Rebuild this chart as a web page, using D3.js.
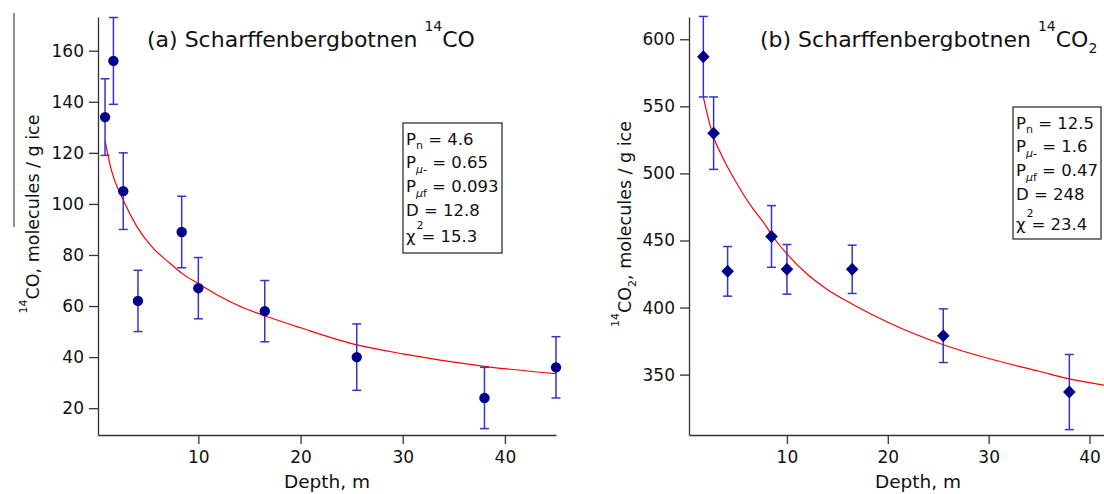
<!DOCTYPE html>
<html lang="en">
<head>
  <meta charset="UTF-8">
  <title>Scharffenbergbotnen</title>
  <script src="https://d3js.org/d3.v7.min.js"></script>
  <style>
    body { margin: 0; background: #fff; }
    svg text { font-family: "DejaVu Sans", sans-serif; fill: #111; }
  </style>
</head>
<body>
  <div id="my_dataviz"></div>
  <script>

    // ---- data ----
    // (a) 14CO
    var depthA = [0.87, 1.69, 2.65, 4.09, 8.37, 10.0, 16.5, 25.5, 38.0, 45.0];
    var coA    = [134, 156, 105, 62, 89, 67, 58, 40, 24, 36];
    var coErr  = [15, 17, 15, 12, 14, 12, 12, 13, 12, 12];
    // fitted curve (a)
    var fitDepthA = [0.87, 1.5, 2.65, 4, 5.5, 7, 8.5, 10, 12, 14, 16.5, 20, 25.5, 30, 38, 45];
    var fitCoA    = [124.8, 113, 101.5, 91, 83, 77.5, 72.5, 68.8, 64, 60, 56.2, 51.5, 44.8, 41.3, 36.4, 33.5];

    // (b) 14CO2
    var depthB = [1.71, 2.73, 4.12, 8.47, 10.0, 16.47, 25.5, 38.0];
    var co2B   = [587, 530, 427, 453, 428.5, 428.5, 379, 337];
    var co2Err = [30, 27, 18.5, 23, 18.5, 18, 20, 28];
    var fitDepthB = [1.71, 2.2, 2.73, 3.5, 4.1, 5, 5.8, 6.7, 7.53, 8.9, 10, 12, 14, 16.5, 20, 25.5, 30, 35, 38, 41.5, 45];
    var fitCo2B   = [557, 541, 527, 514, 505, 493, 483, 473, 465, 450, 440, 425, 413.5, 402.5, 389, 372.3, 362, 352.5, 346.8, 342, 338];

    // ticks
    var xTicks  = [10, 20, 30, 40];
    var yTicksA = [20, 40, 60, 80, 100, 120, 140, 160];
    var yTicksB = [350, 400, 450, 500, 550, 600];

    // fit parameter boxes
    var paramsA = ["4.6", "0.65", "0.093", "12.8", "15.3"];
    var paramsB = ["12.5", "1.6", "0.47", "248", "23.4"];

    var W = 1104, H = 494;
    var svg = d3.select("#my_dataviz").append("svg")
      .attr("width", W).attr("height", H);

    var markColor = "#00008b", errColor = "#3535c4", fitColor = "#ff0000";

    // helper: text made of segments (sup / sub / italic)
    function richText(g, x, y, segs, size, supRaise) {
      var t = g.append("text").attr("x", x).attr("y", y).style("font-size", size + "px");
      var shift = 0;
      segs.forEach(function (s) {
        var target = s.v == "sup" ? -(supRaise || 0.6) * size : (s.v == "sub" ? 0.28 * size : 0);
        var sp = t.append("tspan").text(s.t).attr("dy", target - shift);
        if (s.v) sp.style("font-size", Math.round(size * 0.64) + "px");
        if (s.i) sp.style("font-style", "italic");
        if (s.dx) sp.attr("dx", s.dx);
        shift = target;
      });
      return t;
    }

    function panel(opt) {
      var g = svg.append("g");
      var x = d3.scaleLinear().domain(opt.xDom).range(opt.xRange);
      var y = d3.scaleLinear().domain(opt.yDom).range([435, 17]);

      var ax = g.append("g").attr("transform", "translate(0,435)")
        .call(d3.axisBottom(x).tickValues(xTicks).tickSize(9).tickSizeOuter(0).tickPadding(7));
      var ay = g.append("g").attr("transform", "translate(" + opt.xRange[0] + ",0)")
        .call(d3.axisLeft(y).tickValues(opt.yTicks).tickSize(9).tickSizeOuter(0).tickPadding(5));
      [ax, ay].forEach(function (a) {
        a.selectAll("path, line").attr("stroke", "#333").attr("stroke-width", 1.3);
        a.selectAll("text").style("font-size", "17px").attr("fill", "#111");
      });

      // fitted curve
      var fit = opt.fitX.map(function (d, i) { return [d, opt.fitY[i]]; });
      g.append("path").datum(fit)
        .attr("fill", "none").attr("stroke", fitColor).attr("stroke-width", 1.2)
        .attr("d", d3.line().curve(d3.curveMonotoneX)
          .x(function (d) { return x(d[0]); }).y(function (d) { return y(d[1]); }));

      // error bars
      var pts = opt.px.map(function (d, i) { return { x: d, y: opt.py[i], e: opt.pe[i] }; });
      var eb = g.append("g").selectAll("g").data(pts).enter().append("g")
        .attr("stroke", errColor).attr("stroke-width", 1.5);
      eb.append("line")
        .attr("x1", function (d) { return x(d.x); }).attr("x2", function (d) { return x(d.x); })
        .attr("y1", function (d) { return y(d.y - d.e); }).attr("y2", function (d) { return y(d.y + d.e); });
      [-1, 1].forEach(function (s) {
        eb.append("line")
          .attr("x1", function (d) { return x(d.x) - 4.5; }).attr("x2", function (d) { return x(d.x) + 4.5; })
          .attr("y1", function (d) { return y(d.y + s * d.e); }).attr("y2", function (d) { return y(d.y + s * d.e); });
      });

      // markers
      g.append("g").selectAll("path").data(pts).enter().append("path")
        .attr("transform", function (d) { return "translate(" + x(d.x) + "," + y(d.y) + ")"; })
        .attr("d", opt.symbol)
        .attr("fill", markColor);

      // x label
      g.append("text").attr("x", (opt.xRange[0] + opt.xRange[1]) / 2).attr("y", 488)
        .attr("text-anchor", "middle").style("font-size", "18.5px").text("Depth, m");

      // title
      richText(g, opt.titleX, 47, opt.title, 22, 0.75);

      // y label
      richText(g, 0, 0, opt.ylab, 17.5, 0.7)
        .attr("text-anchor", "middle")
        .attr("transform", "translate(" + opt.ylabX + "," + opt.ylabY + ") rotate(-90)");

      // parameter box
      var b = opt.box;
      g.append("rect").attr("x", b.x).attr("y", b.y).attr("width", b.w).attr("height", b.h)
        .attr("fill", "#fff").attr("stroke", "#333").attr("stroke-width", 1.3);
      var p = opt.params;
      var rows = [
        [{ t: "P" }, { t: "n", v: "sub" }, { t: " = " + p[0] }],
        [{ t: "P" }, { t: "\u03bc-", v: "sub", i: true }, { t: " = " + p[1] }],
        [{ t: "P" }, { t: "\u03bc", v: "sub", i: true }, { t: "f", v: "sub" }, { t: " = " + p[2] }],
        [{ t: "D = " + p[3] }],
        [{ t: "\u03c7" }, { t: "2", v: "sup", dx: 1 }, { t: "= " + p[4], dx: -2 }]
      ];
      rows.forEach(function (r, i) {
        richText(g, b.x + 3, b.y + b.t0 + i * 23.8 + (i == 4 ? b.chi : 0), r, 16.5, 0.8);
      });
      return g;
    }

    panel({
      xDom: [0.18, 45.0], xRange: [98, 556],
      yDom: [9.5, 173.2], yTicks: yTicksA,
      fitX: fitDepthA, fitY: fitCoA,
      px: depthA, py: coA, pe: coErr,
      symbol: d3.symbol().type(d3.symbolCircle).size(85)(),
      titleX: 147,
      title: [{ t: "(a) Scharffenbergbotnen " }, { t: "14", v: "sup" }, { t: "CO" }],
      ylab: [{ t: "14", v: "sup" }, { t: "CO, molecules / g ice" }],
      ylabX: 39, ylabY: 214,
      box: { x: 403, y: 123, w: 99, h: 130, t0: 21.5, chi: 2 },
      params: paramsA
    });

    panel({
      xDom: [0.29, 45.7], xRange: [689, 1147],
      yDom: [305, 616.6], yTicks: yTicksB,
      fitX: fitDepthB, fitY: fitCo2B,
      px: depthB, py: co2B, pe: co2Err,
      symbol: "M0,-6.5L6.3,0L0,6.5L-6.3,0Z",
      titleX: 760,
      title: [{ t: "(b) Scharffenbergbotnen " }, { t: "14", v: "sup" }, { t: "CO" }, { t: "2", v: "sub" }],
      ylab: [{ t: "14", v: "sup" }, { t: "CO" }, { t: "2", v: "sub" }, { t: ", molecules / g ice" }],
      ylabX: 631, ylabY: 224,
      box: { x: 1013, y: 107, w: 88, h: 132, t0: 21.5, chi: 6 },
      params: paramsB
    });

    // thin rule beside the left axis title
    svg.append("line").attr("x1", 14).attr("x2", 14).attr("y1", 13).attr("y2", 227)
      .attr("stroke", "#222").attr("stroke-width", 1);

  </script>
</body>
</html>
